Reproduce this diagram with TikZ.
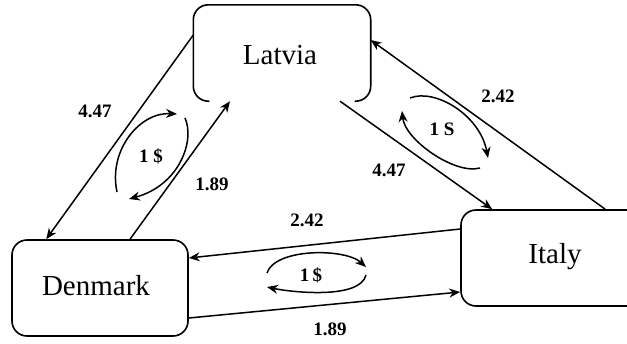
\documentclass[tikz,border=0pt]{standalone}
\usepackage{fontspec}
\setmainfont{Liberation Serif}
\usetikzlibrary{arrows.meta,calc}
\begin{document}
\begin{tikzpicture}[x=1pt,y=-1pt,
  country/.style={minimum width=#1,minimum height=96pt,inner sep=0pt,font=\fontsize{29}{34}\selectfont},
  boxline/.style={line width=1.6pt,rounded corners=15pt},
  flow/.style={line width=1.5pt,-{Stealth[length=11pt,width=9pt]}},
  lbl/.style={font=\fontsize{19}{22}\selectfont\bfseries,inner sep=0pt}]
\useasboundingbox (0,0) rectangle (627,343);
\clip (0,0) rectangle (627,343);
% nodes
\node[country=177pt] (lat) at (282,53) {};
\node at (280,55) {\fontsize{29}{34}\selectfont Latvia};
\node[country=176pt,draw,boxline] (den) at (100,288) {};
\node at (96,286) {\fontsize{29}{34}\selectfont Denmark};
\node[country=188pt,draw,boxline] (ita) at (555,258) {};
\node at (555,257) {\fontsize{29}{34}\selectfont Italy};
% Latvia box outline without bottom edge
\draw[boxline] ($(lat.south west)+(16,0)$) -- (lat.south west) -- (lat.north west) -- (lat.north east) -- (lat.south east) -- ($(lat.south east)+(-16,0)$);
% connectors
\draw[flow] ($(lat.west)+(0,-18)$) -- ($(den.north west)+(35,0)$);
\draw[flow] ($(den.north)+(30,0)$) -- ($(lat.south)+(-52,0)$);
\draw[flow] ($(lat.south)+(58,0)$) -- ($(ita.north west)+(32,0)$);
\draw[flow] ($(ita.north west)+(145,0)$) -- ($(lat.east)+(0,-13)$);
\draw[flow] ($(ita.west)+(0,-29)$) -- ($(den.east)+(0,-30)$);
\draw[flow] ($(den.east)+(0,30)$) -- ($(ita.west)+(0,34)$);
% labels
\node[lbl] (l1) at (95,111) {4.47};
\node[lbl] (l2) at (212,184) {1.89};
\node[lbl] (l3) at (389,170) {4.47};
\node[lbl] (l4) at (498,96) {2.42};
\node[lbl] (l5) at (307,220) {2.42};
\node[lbl] (l6) at (330,329) {1.89};
\node[lbl] (c1) at (151,156) {1 \$};
\node[lbl] (c2) at (442,129) {1 S};
\node[lbl] (c3) at (311,275) {1\,\$};
% cycles
\coordinate (a1) at (117,192); \coordinate (a2) at (177,114);
\coordinate (a3) at (185,118); \coordinate (a4) at (129,199);
\draw[flow] (a1) .. controls (108,150) and (140,112) .. (a2);
\draw[flow] (a3) .. controls (195,140) and (180,185) .. (a4);
\coordinate (b1) at (410,98); \coordinate (b2) at (488,158);
\coordinate (b3) at (480,168); \coordinate (b4) at (402,111);
\draw[flow] (b1) .. controls (435,88) and (480,115) .. (b2);
\draw[flow] (b3) .. controls (455,175) and (405,140) .. (b4);
\coordinate (d1) at (267,273); \coordinate (d2) at (366,267);
\coordinate (d3) at (366,275); \coordinate (d4) at (267,287);
\draw[flow] (d1) .. controls (275,248) and (345,248) .. (d2);
\draw[flow] (d3) .. controls (360,300) and (290,292) .. (d4);
\end{tikzpicture}
\end{document}
